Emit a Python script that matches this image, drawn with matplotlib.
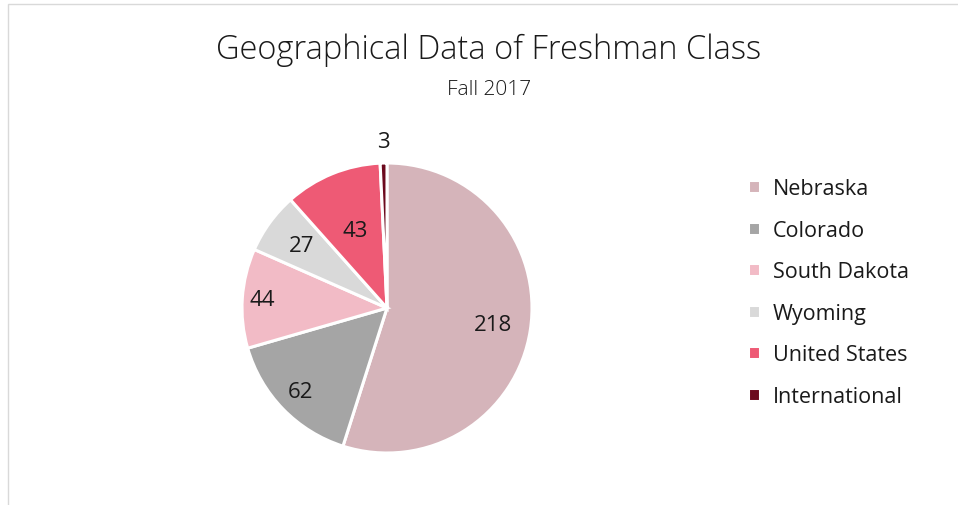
import numpy as np
import matplotlib.pyplot as plt
from matplotlib.patches import Rectangle

# data
regions = ['Nebraska', 'Colorado', 'South Dakota', 'Wyoming', 'United States', 'International']
counts = [218, 62, 44, 27, 43, 3]
colors = ['#D5B4BA', '#A5A5A5', '#F2BBC6', '#D9D9D9', '#EE5A75', '#6C0A1E']
# distance of each value label from the centre (fraction of radius)
label_dist = [0.74, 0.83, 0.86, 0.73, 0.58, 1.15]

plt.rcParams['font.family'] = ['Open Sans', 'DejaVu Sans']
txt = '#1a1a1a'

W, H = 958, 506
fig = plt.figure(figsize=(W / 100, H / 100), dpi=100)

# chart border (only top and left edges visible in the crop)
fig.patches.append(Rectangle((8 / W, -0.1), 1.2, 1 - 5 / H + 0.1,
                             transform=fig.transFigure, fill=False,
                             edgecolor='#D9D9D9', linewidth=1))

cx, cy, r = 387, 309, 145
ax = fig.add_axes([(cx - r) / W, (H - cy - r) / H, 2 * r / W, 2 * r / H])
wedges, _ = ax.pie(counts, colors=colors, startangle=90, counterclock=False,
                   radius=1, wedgeprops=dict(edgecolor='white', linewidth=2.2))
ax.set_xlim(-1, 1)
ax.set_ylim(-1, 1)
ax.set_aspect('equal')

for w, n, d in zip(wedges, counts, label_dist):
    mid = np.deg2rad((w.theta1 + w.theta2) / 2)
    ax.text(d * np.cos(mid), d * np.sin(mid), str(n), ha='center', va='center',
            fontsize=16, color=txt)

fig.text(489 / W, 1 - 50 / H, 'Geographical Data of Freshman Class',
         ha='center', va='center', fontsize=23.5, color=txt, fontweight='light')
fig.text(489 / W, 1 - 90 / H, 'Fall 2017', ha='center', va='center',
         fontsize=15, color=txt, fontweight='light')

leg = fig.legend(wedges, regions, loc='upper left', bbox_to_anchor=(729 / W, 1 - 160 / H),
                 frameon=False, fontsize=15.5, handlelength=0.55, handleheight=0.55,
                 handletextpad=0.6, labelspacing=0.95, labelcolor=txt)

fig.savefig('out.png', dpi=100)
